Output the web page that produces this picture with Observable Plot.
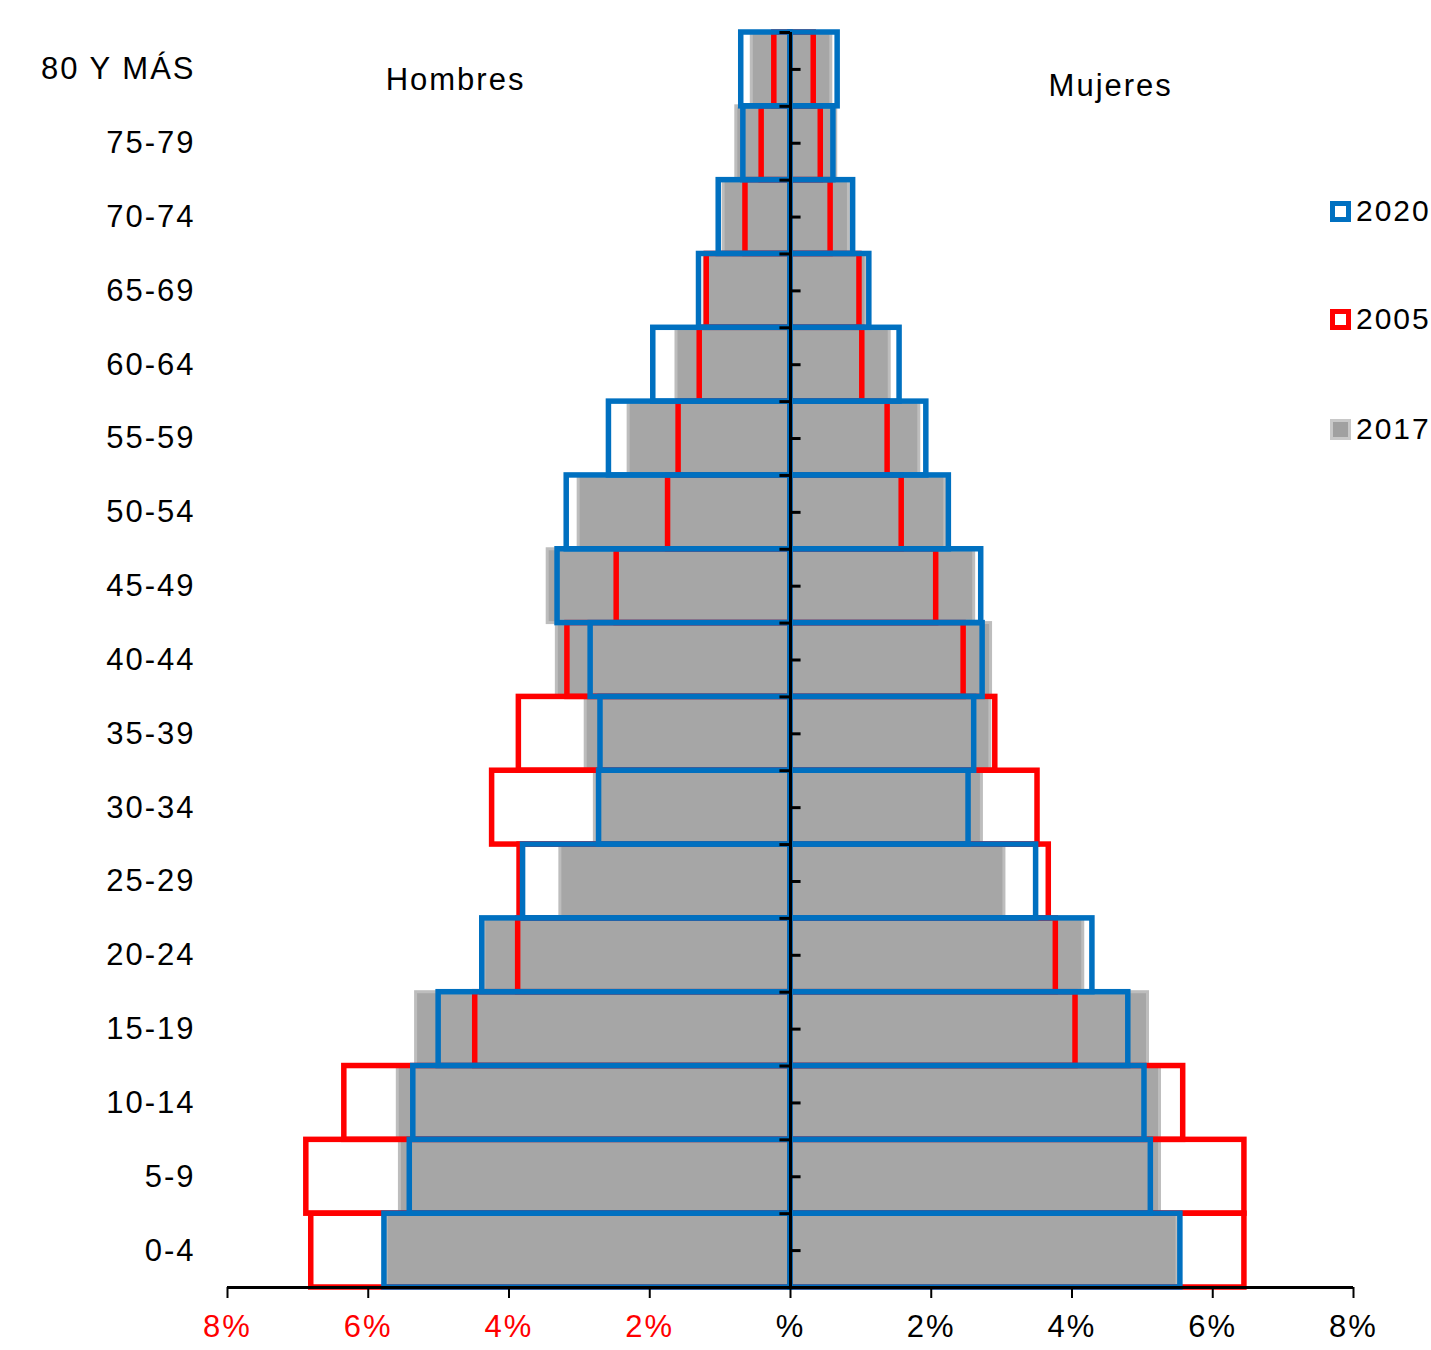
<!DOCTYPE html>
<html>
<head>
<meta charset="utf-8">
<script src="https://cdn.jsdelivr.net/npm/d3@7"></script>
<script src="https://cdn.jsdelivr.net/npm/@observablehq/plot@0.6"></script>
<style>
  body { margin: 0; background: #fff; font-family: "Liberation Sans", Arial, sans-serif; }
  #wrap { position: relative; width: 1431px; height: 1350px; }
  .leg { position: absolute; left: 1330px; display: flex; align-items: center; font-size: 30px; letter-spacing: 2px; color: #000; }
  .sw { width: 21px; height: 21px; box-sizing: border-box; margin-right: 5px; }
</style>
</head>
<body>
<div id="wrap"></div>
<script>
// Age groups, bottom to top
const ages = ["0-4","5-9","10-14","15-19","20-24","25-29","30-34","35-39","40-44","45-49","50-54","55-59","60-64","65-69","70-74","75-79","80 Y MÁS"];
// Percent of population (%)
const male2020   = [5.77, 5.41, 5.36, 5.00, 4.38, 3.80, 2.72, 2.70, 2.84, 3.31, 3.18, 2.58, 1.95, 1.30, 1.02, 0.67, 0.70];
const female2020 = [5.54, 5.12, 5.03, 4.80, 4.29, 3.49, 2.53, 2.61, 2.73, 2.71, 2.25, 1.93, 1.55, 1.12, 0.89, 0.61, 0.67];
const male2005   = [6.81, 6.88, 6.34, 4.48, 3.87, 3.85, 4.24, 3.86, 3.17, 2.47, 1.74, 1.59, 1.29, 1.19, 0.64, 0.41, 0.23];
const female2005 = [6.45, 6.45, 5.58, 4.05, 3.77, 3.67, 3.51, 2.91, 2.46, 2.07, 1.58, 1.38, 1.02, 0.98, 0.57, 0.43, 0.33];
const male2017   = [5.74, 5.55, 5.58, 5.32, 4.35, 3.27, 2.78, 2.91, 3.32, 3.45, 3.01, 2.30, 1.62, 1.22, 0.95, 0.77, 0.55];
const female2017 = [5.50, 5.25, 5.25, 5.08, 4.16, 3.04, 2.72, 2.84, 2.85, 2.61, 2.20, 1.83, 1.41, 1.08, 0.83, 0.65, 0.58];
const years = ["2020", "2005", "2017"];
const xTicks = [-8, -6, -4, -2, 0, 2, 4, 6, 8];
const sexLabels = ["Hombres", "Mujeres"];

function rows(male, female) {
  const out = [];
  ages.forEach((a, i) => {
    out.push({i, age: a, v: -male[i]});
    out.push({i, age: a, v: female[i]});
  });
  return out;
}
const d2017 = rows(male2017, female2017);
const d2005 = rows(male2005, female2005);
const d2020 = rows(male2020, female2020);
const bounds = d3.range(ages.length + 1);
const centers = ages.map((a, i) => i + 0.5);

const FONT = 31;
const chart = Plot.plot({
  width: 1431,
  height: 1350,
  marginLeft: 227,
  marginRight: 78,
  marginTop: 32,
  marginBottom: 63,
  style: {fontFamily: "'Liberation Sans', Arial, sans-serif", letterSpacing: "2px", color: "#000", background: "#fff"},
  x: {domain: [-8, 8]},
  y: {domain: [0, ages.length]},
  marks: [
    // 2017 gray filled bars
    Plot.rect(d2017, {x1: d => 0, x2: "v", y1: "i", y2: d => d.i + 1, fill: "#a6a6a6", stroke: "#bdbdbd", strokeWidth: 3}),
    // 2005 red outlines
    Plot.rect(d2005, {x1: d => 0, x2: "v", y1: "i", y2: d => d.i + 1, fill: "none", stroke: "#ff0000", strokeWidth: 5.5}),
    // 2020 blue outlines
    Plot.rect(d2020, {x1: d => 0, x2: "v", y1: "i", y2: d => d.i + 1, fill: "none", stroke: "#0070c0", strokeWidth: 5.5}),
    // central axis with ticks
    Plot.ruleX([0], {y1: 0, y2: ages.length, stroke: "#000", strokeWidth: 3}),
    Plot.ruleY(bounds, {x1: -0.15, x2: 0, stroke: "#000", strokeWidth: 3}),
    Plot.ruleY(centers, {x1: 0, x2: 0.15, stroke: "#000", strokeWidth: 3}),
    // bottom axis
    Plot.ruleY([0], {x1: -8, x2: 8, stroke: "#000", strokeWidth: 3}),
    Plot.axisX(xTicks.filter(d => d < 0), {tickSize: 11, tickPadding: 16, strokeWidth: 2, stroke: "#000", fill: "#ff0000", fontSize: FONT, tickFormat: d => Math.abs(d) + "%", label: null}),
    Plot.axisX(xTicks.filter(d => d >= 0), {tickSize: 11, tickPadding: 16, strokeWidth: 2, stroke: "#000", fill: "#000", fontSize: FONT, tickFormat: d => d === 0 ? "%" : d + "%", label: null}),
    // age labels
    Plot.axisY(centers, {tickSize: 0, tickPadding: 32, fontSize: FONT, fill: "#000", tickFormat: d => ages[Math.floor(d)], label: null}),
    // sex labels
    Plot.text(sexLabels, {x: (d, i) => i ? 4.55 : -4.76, y: (d, i) => i ? 16.27 : 16.35, text: d => d, fontSize: FONT, fill: "#000"})
  ]
});
const wrap = document.getElementById("wrap");
wrap.appendChild(chart);

// legend
const legendStyles = {
  "2020": "border: 5px solid #0070c0; background: #fff;",
  "2005": "border: 5px solid #ff0000; background: #fff;",
  "2017": "border: 3px solid #c8c8c8; background: #a0a0a0;"
};
const legendTops = [194, 302, 412];
years.forEach((y, k) => {
  const el = document.createElement("div");
  el.className = "leg";
  el.style.top = legendTops[k] + "px";
  el.innerHTML = `<div class="sw" style="${legendStyles[y]}"></div><span>${y}</span>`;
  wrap.appendChild(el);
});
</script>
</body>
</html>
